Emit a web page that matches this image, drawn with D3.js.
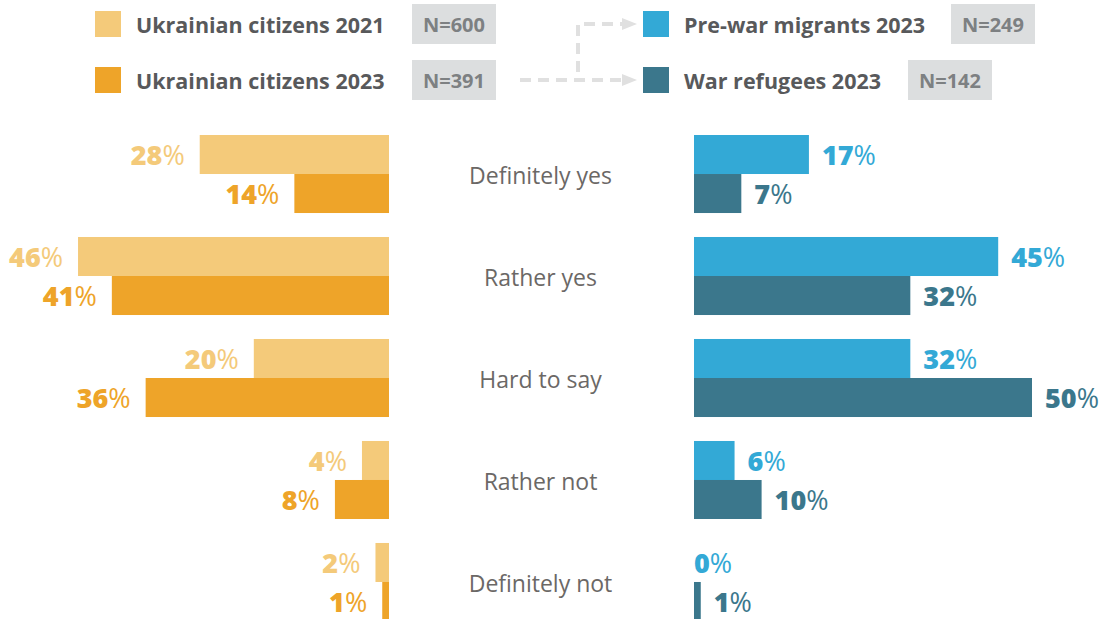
<!DOCTYPE html>
<html>
<head>
<meta charset="utf-8">
<script src="https://cdn.jsdelivr.net/npm/d3@7"></script>
<style>
  html, body { margin: 0; padding: 0; background: #fff; }
  svg { display: block; font-family: "Open Sans", sans-serif; }
</style>
</head>
<body>
<svg id="chart" width="1103" height="619"></svg>
<script>
// Survey answers, in display order
const categories = ["Definitely yes", "Rather yes", "Hard to say", "Rather not", "Definitely not"];

// Ukrainian citizens (drawn to the left of the centre labels)
const citizens2021 = [28, 46, 20, 4, 2];
const citizens2023 = [14, 41, 36, 8, 1];

// Migrants (drawn to the right)
const preWar2023 = [17, 45, 32, 6, 0];
const refugees2023 = [7, 32, 50, 10, 1];

const legendLeft = [
  { name: "Ukrainian citizens 2021", n: "N=600", color: "#f4ca7a" },
  { name: "Ukrainian citizens 2023", n: "N=391", color: "#eea429" }
];
const legendRight = [
  { name: "Pre-war migrants 2023", n: "N=249", color: "#33a9d6" },
  { name: "War refugees 2023", n: "N=142", color: "#3b778c" }
];

const svg = d3.select("#chart");

// ---- scales ----
const leftOrigin = 389, rightOrigin = 694;
const w = d3.scaleLinear().domain([0, 50]).range([0, 338]);
const row = d3.scaleBand().domain(categories).range([135, 621]).paddingInner(0.235).paddingOuter(0);
const sub = d3.scaleBand().domain(["top", "bottom"]).range([0, row.bandwidth()]);

// ---- legend ----
function legend(items, xSwatch, xText, nBoxes) {
  items.forEach((d, i) => {
    const cy = 24 + i * 56;
    const g = svg.append("g");
    g.append("rect").attr("x", xSwatch).attr("y", cy - 13).attr("width", 26).attr("height", 26).attr("fill", d.color);
    g.append("text").attr("x", xText).attr("y", cy + 1).attr("dy", "0.36em")
      .attr("font-size", 21.5).attr("font-weight", 700).attr("fill", "#58595b").text(d.name);
    const b = nBoxes[i];
    g.append("rect").attr("x", b).attr("y", cy - 20).attr("width", 84).attr("height", 40).attr("fill", "#dcdedf");
    g.append("text").attr("x", b + 42).attr("y", cy + 1).attr("dy", "0.36em").attr("text-anchor", "middle")
      .attr("font-size", 20).attr("font-weight", 700).attr("fill", "#7d8082").text(d.n);
  });
}
legend(legendLeft, 95, 136, [412, 412]);
legend(legendRight, 643, 684, [951, 908]);

// dashed connector with arrows
const dash = svg.append("g").attr("fill", "none").attr("stroke", "#e0e0e0")
  .attr("stroke-width", 4).attr("stroke-dasharray", "11 7");
dash.append("path").attr("d", d3.line()([[520, 80], [624, 80]]));
dash.append("path").attr("d", d3.line()([[578, 72], [578, 24], [624, 24]]));
[24, 80].forEach(y => {
  svg.append("path").attr("fill", "#e0e0e0")
    .attr("d", d3.line()([[622, y - 6], [637, y], [622, y + 6]]) + "Z");
});

// ---- bars ----
function valueLabel(sel, v, color) {
  sel.append("tspan").attr("font-weight", 800).text(v);
  sel.append("tspan").attr("font-weight", 400).text("%");
  sel.attr("fill", color);
}

const series = [
  { values: citizens2021, side: "left", slot: "top", color: "#f4ca7a" },
  { values: citizens2023, side: "left", slot: "bottom", color: "#eea429" },
  { values: preWar2023, side: "right", slot: "top", color: "#33a9d6" },
  { values: refugees2023, side: "right", slot: "bottom", color: "#3b778c" }
];

series.forEach(s => {
  const g = svg.append("g");
  s.values.forEach((v, i) => {
    const y = row(categories[i]) + sub(s.slot);
    const h = sub.bandwidth();
    const len = w(v);
    const x = s.side === "left" ? leftOrigin - len : rightOrigin;
    g.append("rect").attr("x", x).attr("y", y).attr("width", len).attr("height", h).attr("fill", s.color);
    const t = g.append("text").attr("y", y + h / 2 + 1).attr("dy", "0.36em").attr("font-size", 27);
    if (s.side === "left") {
      t.attr("x", leftOrigin - len - 15).attr("text-anchor", "end");
    } else {
      t.attr("x", rightOrigin + len + (v > 0 ? 13 : 0)).attr("text-anchor", "start");
    }
    valueLabel(t, v, s.color);
  });
});

// ---- category labels ----
svg.append("g").selectAll("text").data(categories).join("text")
  .attr("x", (leftOrigin + rightOrigin) / 2 - 1)
  .attr("y", d => row(d) + row.bandwidth() / 2 + 2)
  .attr("dy", "0.36em")
  .attr("text-anchor", "middle")
  .attr("font-size", 23)
  .attr("fill", "#6b6866")
  .text(d => d);
</script>
</body>
</html>
